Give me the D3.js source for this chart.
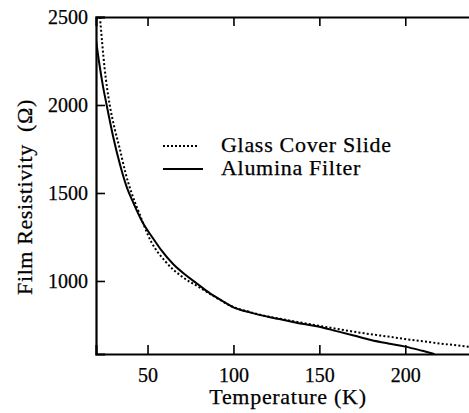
<!DOCTYPE html>
<html>
<head>
<meta charset="utf-8">
<script src="https://cdn.jsdelivr.net/npm/d3@7"></script>
<style>
  body { margin: 0; background: #fff; }
</style>
</head>
<body>
<svg id="svg"></svg>
<script>
// Global variables
let svg = d3.select("#svg");
const width = 469;
const height = 413;
const fontFamily = "'Liberation Serif', 'Times New Roman', Times, 'DejaVu Serif', serif";

// Data (temperature in K, resistivity in ohm)
const glassT = [22.3, 25, 28, 31, 34, 37, 40.7, 45, 52, 60, 70, 80, 90, 100, 110, 120, 130, 140, 150, 160, 170, 180, 190, 200, 210, 220, 230, 240];
const glassR = [2500, 2210, 2000, 1860, 1745, 1620, 1500, 1390, 1225, 1115, 1025, 965, 905, 852, 822, 798, 780, 762, 745, 728, 712, 697, 684, 670, 658, 645, 634, 622];

const aluminaT = [20, 22, 24, 26.2, 30, 34, 38, 41.7, 47, 53, 58, 65, 72, 78.5, 86, 93, 100, 110, 120, 130, 140, 150, 160, 170, 180, 190, 200, 210, 217];
const aluminaR = [2370, 2230, 2110, 2000, 1820, 1660, 1530, 1445, 1335, 1245, 1175, 1095, 1035, 987, 932, 890, 850, 820, 797, 777, 757, 740, 715, 690, 665, 645, 627, 603, 585];

const xTicks = [50, 100, 150, 200];
const yTicks = [1000, 1500, 2000, 2500];

const legendLabels = ["Glass Cover Slide", "Alumina Filter"];

svg.attr("width", width).attr("height", height)
    .style("font-family", fontFamily);

// plot box
const plotLeft = 96, plotRight = 474, plotTop = 17, plotBottom = 354;

let x = d3.scaleLinear().domain([20, 240]).range([plotLeft, plotRight]);
let y = d3.scaleLinear().domain([585, 2500]).range([plotBottom, plotTop]);

svg.append("defs").append("clipPath").attr("id", "clip")
    .append("rect")
    .attr("x", plotLeft).attr("y", plotTop)
    .attr("width", plotRight - plotLeft).attr("height", plotBottom - plotTop);

const tickLen = 9;

// bottom axis, ticks pointing inward
let bottomAxis = svg.append("g")
    .attr("transform", "translate(0," + plotBottom + ")")
    .call(d3.axisBottom(x).tickValues(xTicks).tickSize(-tickLen).tickPadding(13.5).tickFormat(d3.format("d")));

// top axis, ticks pointing inward, no labels
let topAxis = svg.append("g")
    .attr("transform", "translate(0," + plotTop + ")")
    .call(d3.axisTop(x).tickValues(xTicks).tickSize(-tickLen).tickFormat(""));

// left axis
let leftAxis = svg.append("g")
    .attr("transform", "translate(" + plotLeft + ",0)")
    .call(d3.axisLeft(y).tickValues(yTicks).tickSize(-tickLen).tickPadding(8).tickFormat(d3.format("d")));

// right axis (sits just past the picture edge)
let rightAxis = svg.append("g")
    .attr("transform", "translate(" + (plotRight + 4) + ",0)")
    .call(d3.axisRight(y).tickValues(yTicks).tickSize(-tickLen).tickFormat(""));

[bottomAxis, topAxis, leftAxis, rightAxis].forEach(g => {
    g.attr("font-family", null).attr("font-size", null);
    g.select(".domain").attr("stroke", "#000").attr("stroke-width", 2.2);
    g.selectAll(".tick line").attr("stroke", "#000").attr("stroke-width", 1.6);
    g.selectAll("text")
        .attr("font-family", fontFamily)
        .attr("font-size", 20)
        .attr("stroke", "#000")
        .attr("stroke-width", 0.25)
        .attr("fill", "#000");
});

// the lines
let line = d3.line()
    .x(d => x(d[0]))
    .y(d => y(d[1]))
    .curve(d3.curveMonotoneX);

let glassData = glassT.map((t, i) => [t, glassR[i]]);
let aluminaData = aluminaT.map((t, i) => [t, aluminaR[i]]);

let plot = svg.append("g").attr("clip-path", "url(#clip)");

plot.append("path")
    .datum(glassData)
    .attr("d", line)
    .attr("fill", "none")
    .attr("stroke", "#000")
    .attr("stroke-width", 2)
    .attr("stroke-dasharray", "2,2.2");

plot.append("path")
    .datum(aluminaData)
    .attr("d", line)
    .attr("fill", "none")
    .attr("stroke", "#000")
    .attr("stroke-width", 2);

// legend
let legend = svg.append("g");
const legendY = [146, 169];
legendLabels.forEach((label, i) => {
    legend.append("line")
        .attr("x1", 163).attr("x2", i === 0 ? 198 : 203)
        .attr("y1", legendY[i]).attr("y2", legendY[i])
        .attr("stroke", "#000")
        .attr("stroke-width", i === 0 ? 1.8 : 2)
        .attr("stroke-dasharray", i === 0 ? "2,2" : null);
    legend.append("text")
        .attr("x", 221)
        .attr("y", legendY[i] + 6)
        .attr("font-family", fontFamily)
        .attr("font-size", 22)
        .attr("letter-spacing", 0.7)
        .attr("stroke", "#000")
        .attr("stroke-width", 0.25)
        .text(label);
});

// axis titles
svg.append("text")
    .attr("x", 288)
    .attr("y", 404)
    .attr("text-anchor", "middle")
    .attr("font-family", fontFamily)
    .attr("font-size", 22)
    .attr("letter-spacing", 0.7)
    .attr("stroke", "#000")
    .attr("stroke-width", 0.25)
    .text("Temperature (K)");

svg.append("text")
    .attr("transform", "translate(32,197) rotate(-90)")
    .attr("text-anchor", "middle")
    .attr("font-family", fontFamily)
    .attr("font-size", 22)
    .attr("letter-spacing", 0.6)
    .attr("stroke", "#000")
    .attr("stroke-width", 0.25)
    .style("white-space", "pre")
    .text("Film Resistivity  (Ω)");
</script>
</body>
</html>
